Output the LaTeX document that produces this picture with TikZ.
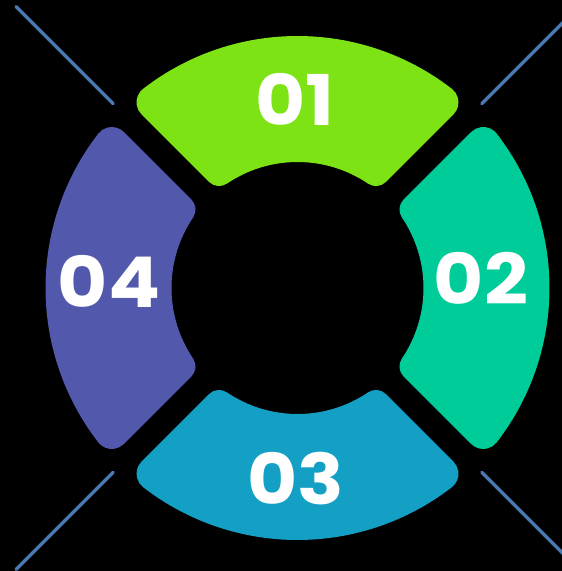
\documentclass[tikz,border=0pt]{standalone}
\usepackage{fontspec}
\setmainfont{Poppins}
\newfontfamily\numfont{Poppins}[FakeStretch=1.1]
\definecolor{cone}{HTML}{7DE314}
\definecolor{ctwo}{HTML}{00CC99}
\definecolor{cthree}{HTML}{13A0C4}
\definecolor{cfour}{HTML}{5259AD}
\definecolor{cline}{HTML}{4A79AF}
\tikzset{
  diagline/.style={draw=cline,line width=3.2pt,line cap=round},
  numlabel/.style={text=white,font=\numfont\fontsize{70}{70}\selectfont\bfseries,inner sep=0pt}
}
\begin{document}
\begin{tikzpicture}[x=1pt,y=1pt]
\clip (-297.5,-283) rectangle (264.5,288);
\fill[black] (-297.5,-283) rectangle (264.5,288);
% geometry
\pgfmathsetmacro\R{252}
\pgfmathsetmacro\r{126}
\pgfmathsetmacro\g{12.5}
\pgfmathsetmacro\ro{17}
\pgfmathsetmacro\ri{14}
\pgfmathsetmacro\so{10*sqrt(((\R-\ro)/10)^2-((\g+\ro)/10)^2)}
\pgfmathsetmacro\thO{45+atan((\g+\ro)/\so)}
\pgfmathsetmacro\aO{atan(\g/\so)}
\pgfmathsetmacro\LO{veclen(\so,\g)}
\pgfmathsetmacro\si{10*sqrt(((\r+\ri)/10)^2-((\g+\ri)/10)^2)}
\pgfmathsetmacro\thI{45+atan((\g+\ri)/\si)}
\pgfmathsetmacro\aI{atan(\g/\si)}
\pgfmathsetmacro\LI{veclen(\si,\g)}
\def\segment#1#2{%
  \begin{scope}[rotate=#1]
  \fill[#2] (\thO:\R pt)
    arc[start angle=\thO, end angle=180-\thO, radius=\R pt]
    arc[start angle=180-\thO, end angle=225, radius=\ro pt]
    -- (135-\aI:\LI pt)
    arc[start angle=225, end angle=360-\thI, radius=\ri pt]
    arc[start angle=180-\thI, end angle=\thI, radius=\r pt]
    arc[start angle=\thI+180, end angle=315, radius=\ri pt]
    -- (45+\aO:\LO pt)
    arc[start angle=315, end angle=360+\thO, radius=\ro pt] -- cycle;
  \end{scope}}
\segment{0}{cone}
\segment{-90}{ctwo}
\segment{180}{cthree}
\segment{90}{cfour}
% diagonal lines
\coordinate (d1a) at (45:260.5);  \coordinate (d1b) at (45:398);
\coordinate (d2a) at (135:260.5); \coordinate (d2b) at (135:398);
\coordinate (d3a) at (225:260.5); \coordinate (d3b) at (225:398);
\coordinate (d4a) at (315:260.5); \coordinate (d4b) at (315:398);
\draw[diagline] (d1a) -- (d1b);
\draw[diagline] (d2a) -- (d2b);
\draw[diagline] (d3a) -- (d3b);
\draw[diagline] (d4a) -- (d4b);
% labels
\node[numlabel] (n1) at (-2.5,189) {01};
\node[numlabel] (n2) at (183.5,10) {02};
\node[numlabel] (n3) at (-1.5,-191) {03};
\node[numlabel] (n4) at (-188.5,7) {04};
\end{tikzpicture}
\end{document}
